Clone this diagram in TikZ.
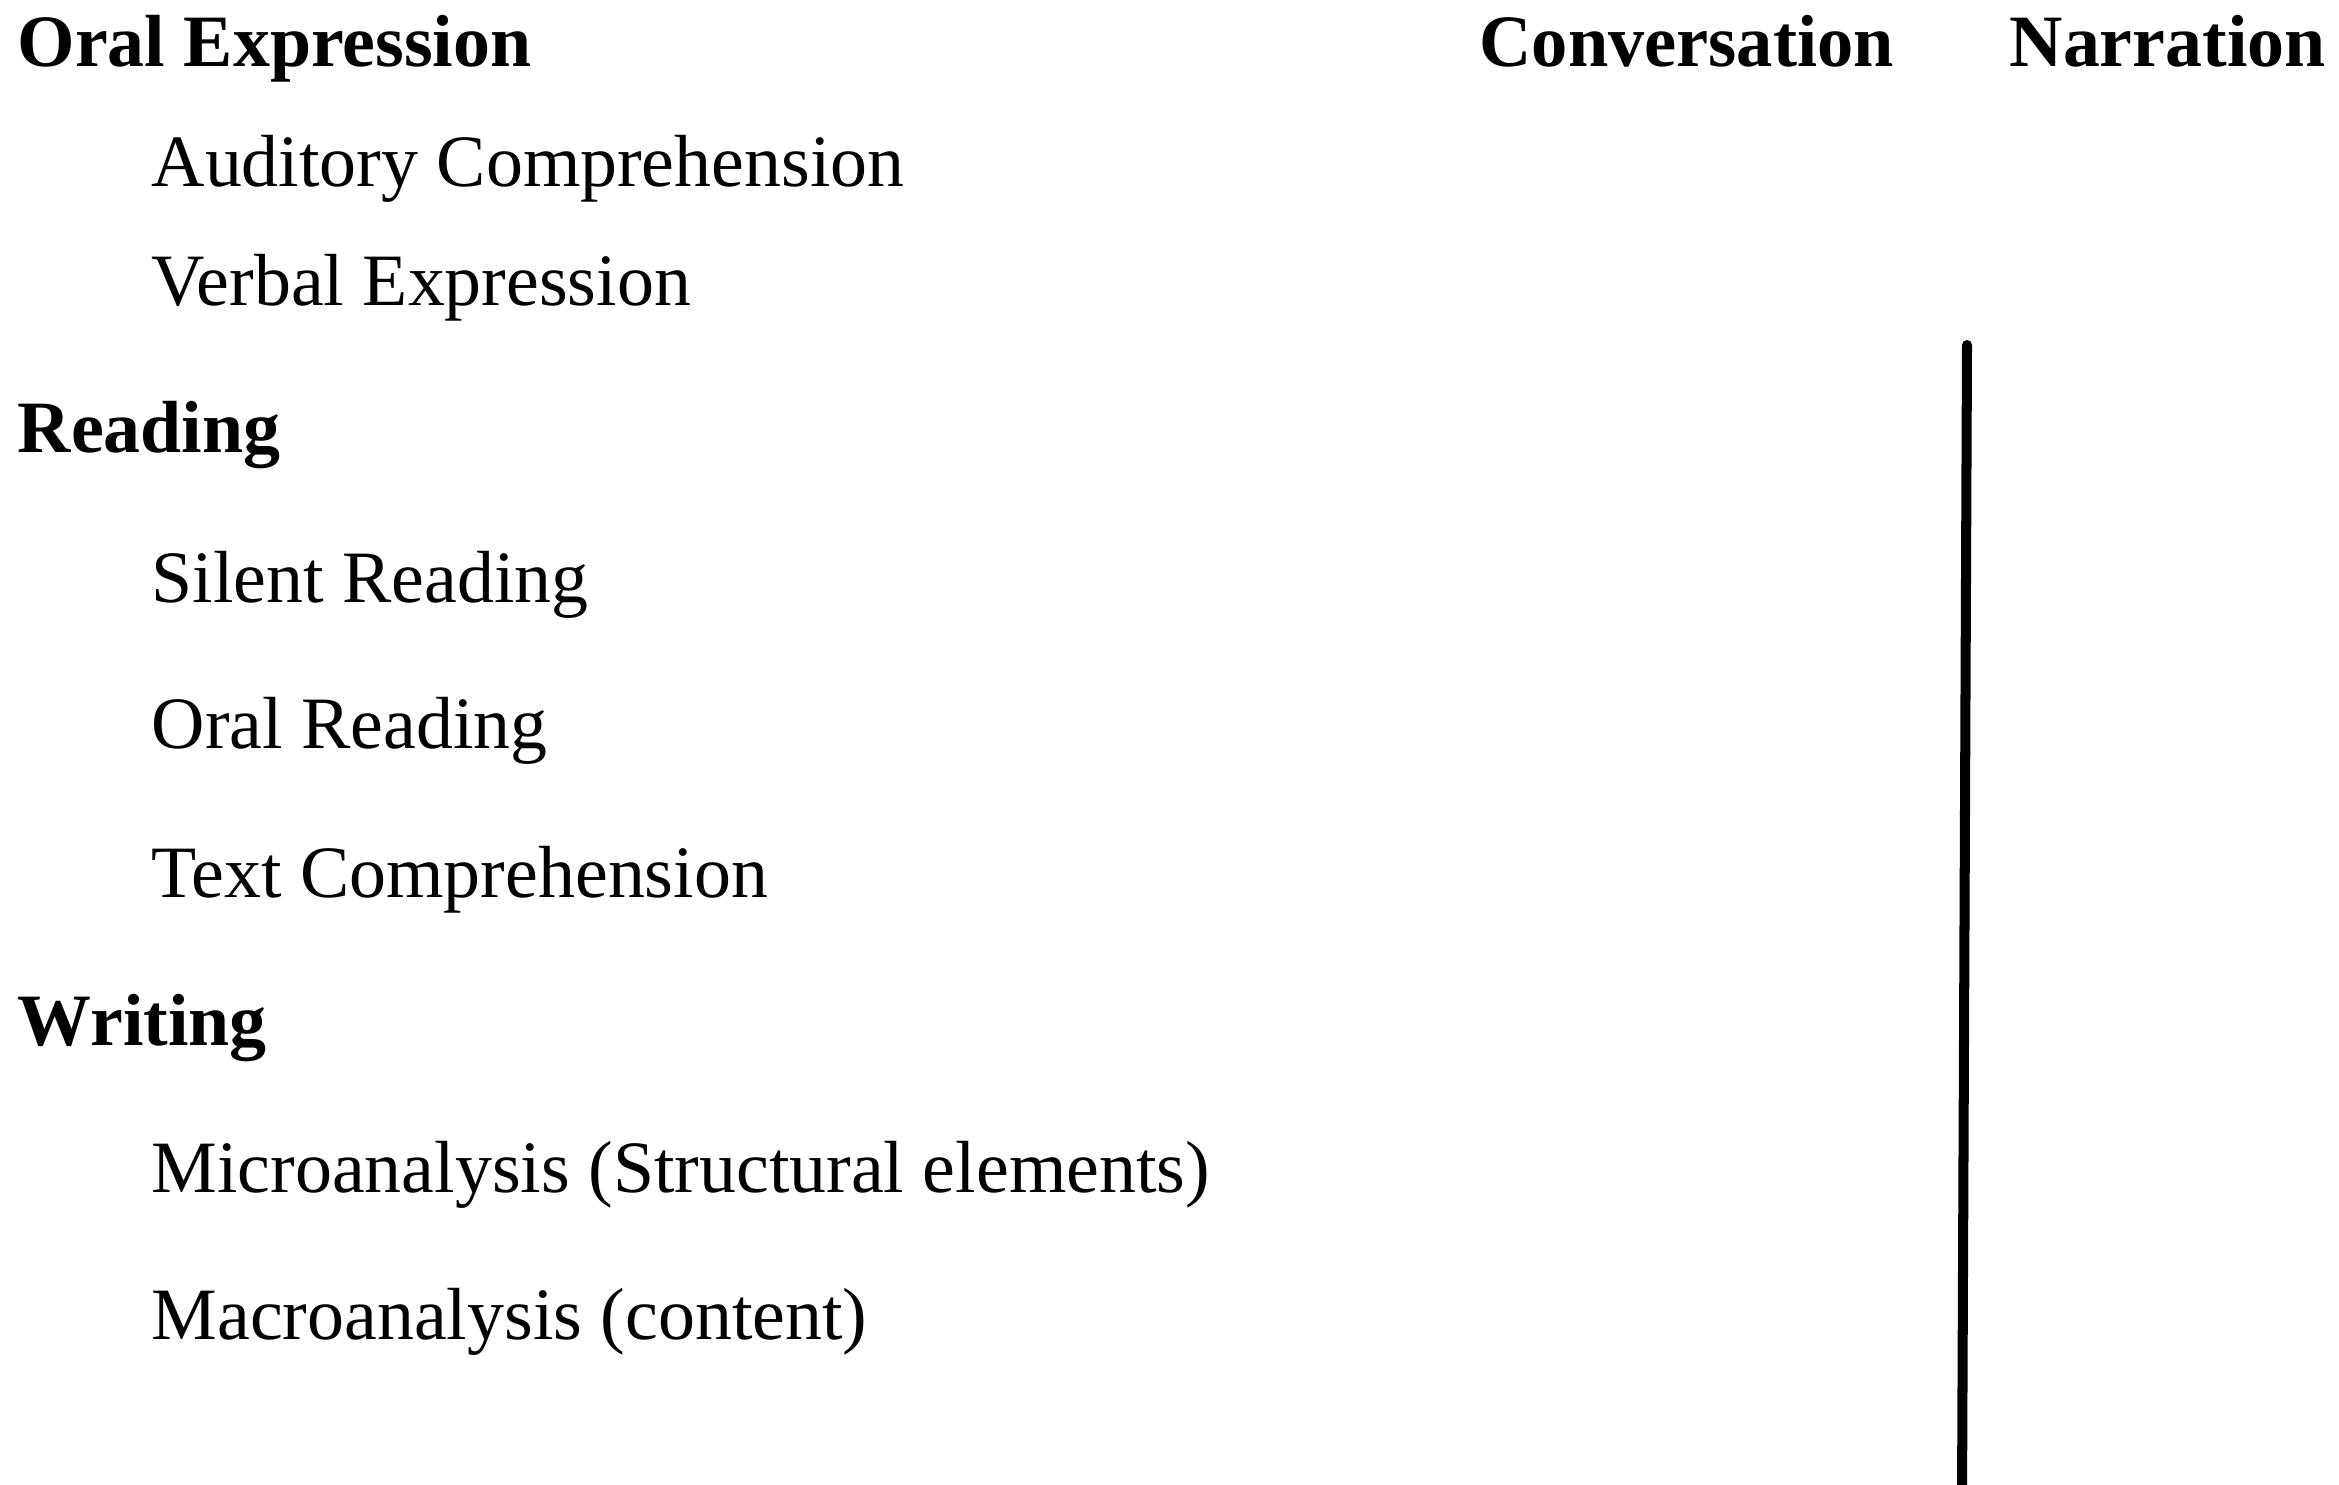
\documentclass[tikz,border=0pt]{standalone}
\usepackage{fontspec}
\setmainfont{Liberation Serif}
\begin{document}
\begin{tikzpicture}[x=0.01cm,y=0.01cm,
  lbl/.style={anchor=base west,inner sep=0pt,font=\fontsize{21}{25}\selectfont},
  head/.style={lbl,font=\fontsize{21}{25}\selectfont\bfseries},
  bar/.style={line width=2.85pt,line cap=round}]
\useasboundingbox (0,0) rectangle (2339,-1485);
\node[head] (oral) at (17,-67) {Oral Expression};
\node[lbl] (aud) at (151,-187) {Auditory Comprehension};
\node[lbl] (verb) at (151,-305) {Verbal Expression};
\node[head] (read) at (17,-452) {Reading};
\node[lbl] (silent) at (151,-602) {Silent Reading};
\node[lbl] (oralr) at (151,-748) {Oral Reading};
\node[lbl] (textc) at (151,-897) {Text Comprehension};
\node[head] (writ) at (17,-1045) {Writing};
\node[lbl] (micro) at (151,-1192) {Microanalysis (Structural elements)};
\node[lbl] (macro) at (151,-1339) {Macroanalysis (content)};
\node[head,xscale=0.98] (conv) at (1479,-67) {Conversation};
\node[head] (narr) at (2009,-67) {Narration};
\coordinate (ltop) at (1967,-345);
\coordinate (lbot) at (1962,-1500);
\draw[bar] (ltop) -- (lbot);
\end{tikzpicture}
\end{document}
